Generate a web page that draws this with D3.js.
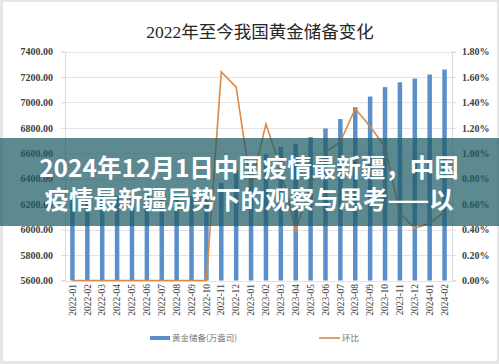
<!DOCTYPE html>
<html><head><meta charset="utf-8">
<script src="https://cdn.jsdelivr.net/npm/d3@7"></script>
<style>html,body{margin:0;padding:0;background:#e8e8e8;}svg{display:block;}</style>
</head><body>
<script>
const months = ["2022-01","2022-02","2022-03","2022-04","2022-05","2022-06","2022-07","2022-08","2022-09","2022-10","2022-11","2022-12","2023-01","2023-02","2023-03","2023-04","2023-05","2023-06","2023-07","2023-08","2023-09","2023-10","2023-11","2023-12","2024-01","2024-02"];
const reserves = [6264,6264,6264,6264,6264,6264,6264,6264,6264,6264,6367,6464,6512,6592,6650,6676,6727,6795,6869,6962,7046,7120,7158,7187,7219,7258];
const mom = [0,0,0,0,0,0,0,0,0,0,1.64,1.52,0.74,1.23,0.88,0.39,0.76,1.01,1.09,1.35,1.21,1.05,0.53,0.41,0.45,0.54];
const leftTicks = [5600,5800,6000,6200,6400,6600,6800,7000,7200,7400];
const rightTicks = [0,0.2,0.4,0.6,0.8,1.0,1.2,1.4,1.6,1.8];
const title = "2022年至今我国黄金储备变化";
const legendLabels = ["黄金储备(万盎司)","环比"];
const overlayLines = ["2024年12月1日中国疫情最新疆，中国","疫情最新疆局势下的观察与思考——以"];

const W=499,H=364;
const svg=d3.select("body").append("svg").attr("width",W).attr("height",H);
svg.append("rect").attr("x",0).attr("y",0).attr("width",W).attr("height",H).attr("fill","#e6e6e6");
svg.append("rect").attr("x",3).attr("y",2).attr("width",494).attr("height",359).attr("fill","#fff");

const L=65,R=452,T=51.5,B=280.5;
const x=d3.scaleBand().domain(months).range([L,R]);
const yL=d3.scaleLinear().domain([5600,7400]).range([B,T]);
const yR=d3.scaleLinear().domain([0,1.8]).range([B,T]);
const serif="'Liberation Serif','DejaVu Serif','Noto Sans CJK SC',serif";

svg.append("text").attr("x",260).attr("y",38).attr("text-anchor","middle")
  .attr("font-family","'Liberation Serif','Noto Sans CJK SC',serif").attr("font-size",17.5).attr("fill","#262626").text(title);

// gridlines
svg.append("g").selectAll("line").data(leftTicks).join("line")
  .attr("x1",L).attr("x2",R).attr("y1",d=>Math.round(yL(d))+0.5).attr("y2",d=>Math.round(yL(d))+0.5)
  .attr("stroke","#e4e4e4").attr("stroke-width",1);

// left axis
const gl=svg.append("g").attr("transform",`translate(${L},0)`)
  .call(d3.axisLeft(yL).tickValues(leftTicks).tickFormat(d=>d.toFixed(2)).tickSize(4).tickPadding(8));
gl.select(".domain").attr("stroke","#d9d9d9");
gl.selectAll(".tick line").attr("stroke","#d9d9d9");
gl.selectAll("text").attr("font-family",serif).attr("font-size",10).attr("fill","#404040").attr("font-weight","bold");

// right axis
const gr=svg.append("g").attr("transform",`translate(${R},0)`)
  .call(d3.axisRight(yR).tickValues(rightTicks).tickFormat(d=>d.toFixed(2)+"%").tickSize(4).tickPadding(6));
gr.select(".domain").attr("stroke","#d9d9d9");
gr.selectAll(".tick line").attr("stroke","#d9d9d9");
gr.selectAll("text").attr("font-family",serif).attr("font-size",10).attr("fill","#404040").attr("font-weight","bold");

// bars
const bw=4.5;
svg.append("g").selectAll("rect").data(reserves).join("rect")
  .attr("x",(d,i)=>x(months[i])+x.bandwidth()/2-bw/2)
  .attr("y",d=>yL(d)).attr("width",bw).attr("height",d=>B-yL(d))
  .attr("fill","#5b8fc9");

// line
const line=d3.line().x((d,i)=>x(months[i])+x.bandwidth()/2).y(d=>yR(d));
svg.append("path").datum(mom).attr("d",line).attr("fill","none")
  .attr("stroke","#dc8a45").attr("stroke-width",1.6);

// x labels
svg.append("g").selectAll("text").data(months).join("text")
  .attr("transform",(d)=>`translate(${x(d)+x.bandwidth()/2+3.2},284) rotate(-90)`)
  .attr("text-anchor","end").attr("font-family",serif).attr("font-size",9.5).attr("fill","#404040").text(d=>d);

// legend
svg.append("rect").attr("x",150).attr("y",336).attr("width",20).attr("height",4).attr("fill","#5b8fc9");
svg.append("text").attr("x",172).attr("y",341).attr("font-family","'Noto Sans CJK SC',serif").attr("font-size",8.5).attr("fill","#777").text(legendLabels[0]);
svg.append("line").attr("x1",319).attr("x2",340).attr("y1",338).attr("y2",338).attr("stroke","#dc8a45").attr("stroke-width",1.6);
svg.append("text").attr("x",342).attr("y",341).attr("font-family","'Noto Sans CJK SC',serif").attr("font-size",8.5).attr("fill","#777").text(legendLabels[1]);

// overlay banner
svg.append("rect").attr("x",0).attr("y",138).attr("width",W).attr("height",88).attr("fill","rgba(30,92,102,0.72)");
svg.append("g").selectAll("text").data(overlayLines).join("text")
  .attr("x",249).attr("y",(d,i)=>177+i*32).attr("text-anchor","middle")
  .attr("font-family","'Noto Sans CJK SC','Noto Sans',sans-serif").attr("font-weight","bold")
  .attr("font-size",24.5).attr("fill","#fff").text(d=>d);
</script>
</body></html>
